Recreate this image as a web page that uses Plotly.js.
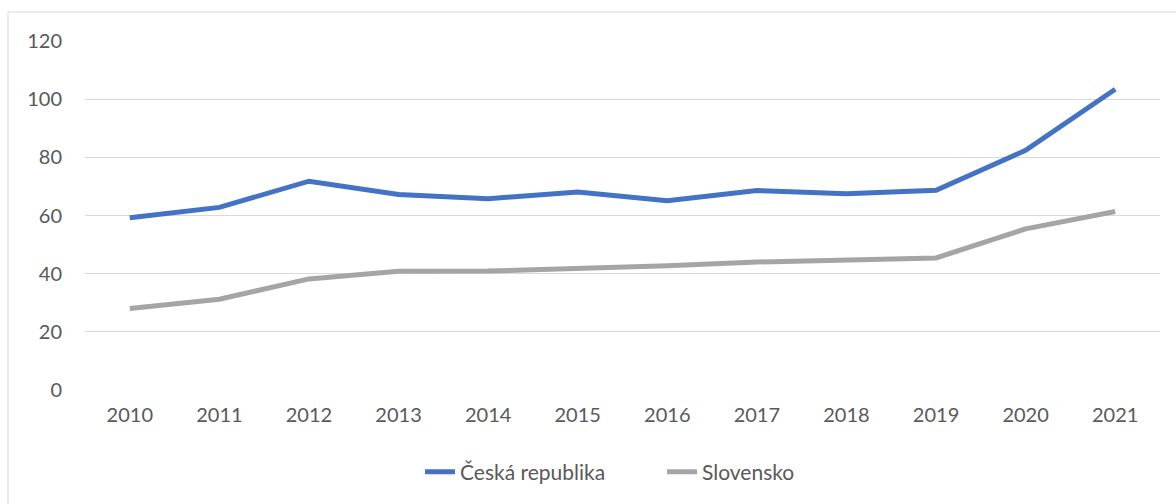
<!DOCTYPE html>
<html>
<head>
<meta charset="utf-8">
<script src="https://cdn.plot.ly/plotly-3.0.1.min.js"></script>
<style>
  html, body { margin: 0; padding: 0; background: #fff; }
  #chart { width: 1176px; height: 504px; }
</style>
</head>
<body>
<div id="chart"></div>
<script>
const years = ["2010","2011","2012","2013","2014","2015","2016","2017","2018","2019","2020","2021"];
const ceskaRepublika = [59.2, 62.8, 71.8, 67.2, 65.8, 68.1, 65.1, 68.6, 67.5, 68.7, 82.4, 103.4];
const slovensko = [28.0, 31.2, 38.2, 40.8, 40.9, 41.6, 42.7, 44.0, 44.8, 45.4, 55.4, 61.4];
const seriesNames = ["Česká republika", "Slovensko"];
const yTicks = [0, 20, 40, 60, 80, 100, 120];

const fontFam = "Lato, 'Open Sans', sans-serif";
const textColor = "#595959";

const traces = [
  { x: years, y: ceskaRepublika, name: seriesNames[0], type: "scatter", mode: "lines",
    line: { color: "#4472C4", width: 5 } },
  { x: years, y: slovensko, name: seriesNames[1], type: "scatter", mode: "lines",
    line: { color: "#A5A5A5", width: 5 } }
];

const layout = {
  width: 1176, height: 504,
  margin: { l: 85, r: 16, t: 41, b: 114 },
  paper_bgcolor: "#fff", plot_bgcolor: "#fff",
  font: { family: fontFam, size: 20, color: textColor },
  showlegend: true,
  legend: { orientation: "h", x: (420 - 85) / 1075, xanchor: "left", y: -0.235, yanchor: "middle",
            font: { size: 21, color: textColor }, entrywidth: 197, entrywidthmode: "pixels" },
  xaxis: { type: "category", range: [-0.5, 11.5], showgrid: false, zeroline: false,
           showline: false, ticks: "", ticklabelstandoff: 11, fixedrange: true },
  yaxis: { range: [0, 120], tickvals: yTicks, showgrid: true, gridcolor: "#D9D9D9",
           gridwidth: 1.3, zeroline: false, showline: false, ticks: "",
           ticklabelstandoff: 22, fixedrange: true },
  shapes: [{ type: "rect", xref: "paper", yref: "paper",
             x0: (8 - 85) / 1075, x1: (1200 - 85) / 1075,
             y0: (390 - 560) / 349, y1: (390 - 12) / 349,
             line: { color: "#D9D9D9", width: 1 }, fillcolor: "rgba(0,0,0,0)", layer: "below" }]
};

Plotly.newPlot("chart", traces, layout, { displayModeBar: false, staticPlot: true });
</script>
</body>
</html>
